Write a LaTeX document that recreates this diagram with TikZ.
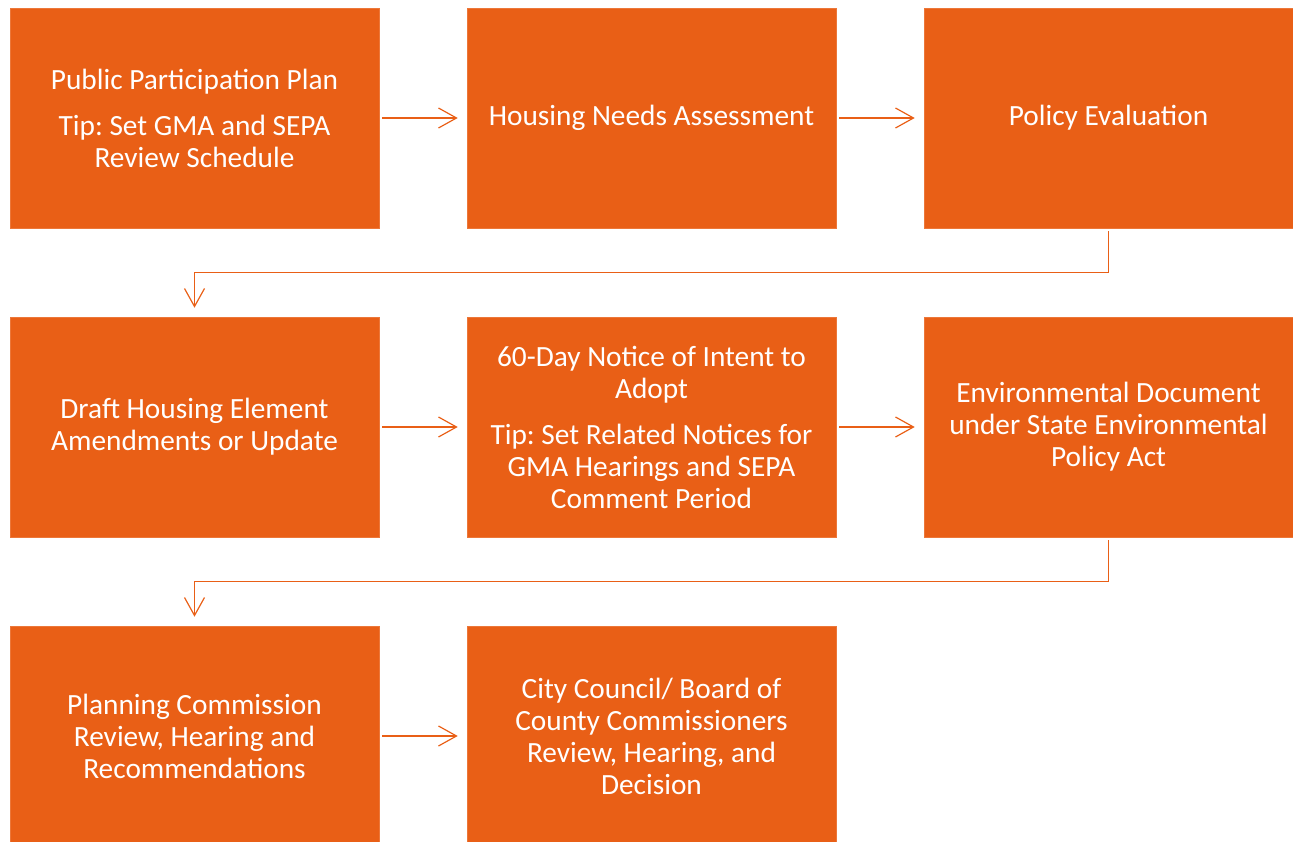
\documentclass[tikz,border=0pt]{standalone}
\usepackage{fontspec}
\setmainfont{Carlito}
\frenchspacing
\usetikzlibrary{shapes}
\usetikzlibrary{arrows.meta}
\definecolor{boxorange}{HTML}{E95F16}
\tikzstyle{block} = [rectangle, draw=boxorange!85!white, fill=boxorange, text=white,
    minimum width=276.75pt, minimum height=165pt, align=center, inner sep=0pt,
    font=\fontsize{22}{24}\selectfont]
\tikzstyle{line} = [draw=boxorange, line width=0.9pt,
    -{Straight Barb[length=13.5pt,width=15pt]}, shorten <=2.25pt, shorten >=6.75pt]

\begin{document}
\begin{tikzpicture}[x=0.75pt, y=-0.75pt, node distance=342.75pt]
    \useasboundingbox (0,0) rectangle (1293,842);
    % Place nodes
    \node [block] at (194.5,118) (plan) {Public Participation Plan\\[10.5pt]Tip: Set GMA and SEPA\\Review Schedule};
    \node [block, right of=plan] (needs) {Housing Needs Assessment};
    \node [block, right of=needs] (policy) {Policy Evaluation};
    \node [block, below of=plan, node distance=231.75pt] (draft) {Draft Housing Element\\Amendments or Update};
    \node [block, right of=draft] (notice) {60-Day Notice of Intent to\\Adopt\\[10.5pt]Tip: Set Related Notices for\\GMA Hearings and SEPA\\Comment Period};
    \node [block, right of=notice] (sepa) {Environmental Document\\under State Environmental\\Policy Act};
    \node [block, below of=draft, node distance=231.75pt] (commission) {Planning Commission\\Review, Hearing and\\Recommendations};
    \node [block, right of=commission] (council) {City Council/ Board of\\County Commissioners\\Review, Hearing, and\\Decision};
    % Draw edges
    \path [line] (plan) -- (needs);
    \path [line] (needs) -- (policy);
    \path [line] (policy.south) -- ++(0,44) -| (draft.north);
    \path [line] (draft) -- (notice);
    \path [line] (notice) -- (sepa);
    \path [line] (sepa.south) -- ++(0,44) -| (commission.north);
    \path [line] (commission) -- (council);
\end{tikzpicture}
\end{document}
